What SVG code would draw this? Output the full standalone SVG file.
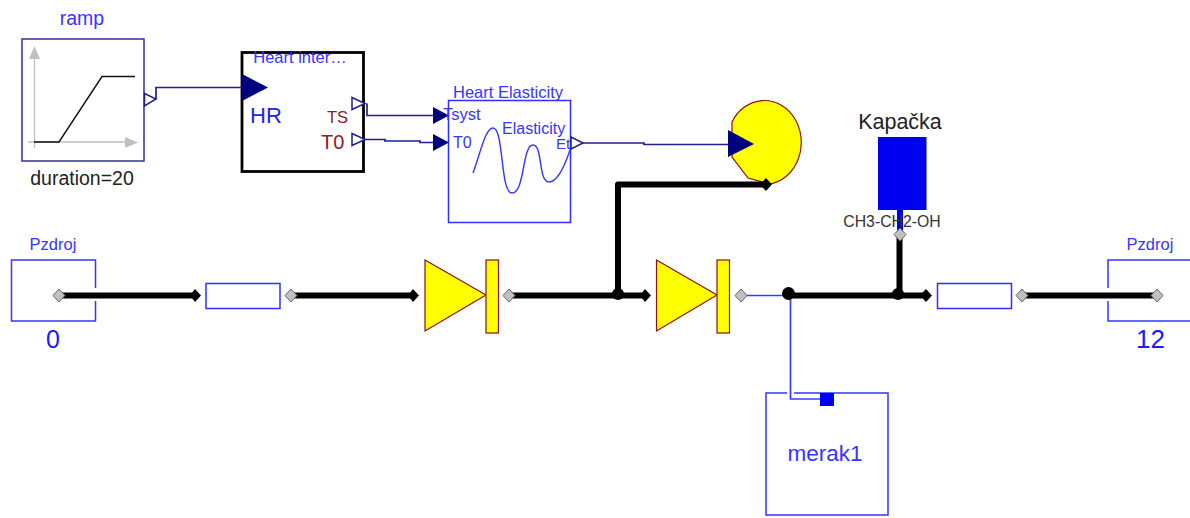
<svg xmlns="http://www.w3.org/2000/svg" width="1190" height="518" viewBox="0 0 1190 518">
<style>
text{font-family:"Liberation Sans",Arial,sans-serif}
.bl{fill:#3535ff}
.box{fill:#fff;stroke:#2f2fff;stroke-width:1.5}
.sig{fill:none;stroke:#1f1f8f;stroke-width:1.7}
.fl{fill:none;stroke:#000;stroke-width:6}
.thin{fill:none;stroke:#3a3aff;stroke-width:1.7}
.pin{fill:#c0c0c0;stroke:#666;stroke-width:1}
.pout{fill:#000}
.tri{fill:#00007f}
.otri{fill:#fff;stroke:#1f1f8f;stroke-width:1.5}
.y{fill:#ffff00;stroke:#8f1010;stroke-width:1.2}
.dk{fill:#8f2020}
</style>
<rect width="1190" height="518" fill="#fff"/>
<g id="ramp">
<text x="82" y="25" font-size="19.500" text-anchor="middle" class="bl">ramp</text>
<rect x="22" y="39" width="122" height="122" fill="#fff" stroke="#30309a" stroke-width="1.5"/>
<path d="M34.500 58V148M28 142H130" fill="none" stroke="#c0c0c0" stroke-width="1.3"/>
<path d="M34.500 46L29 59H40ZM138 142.500L125 137V148Z" fill="#c0c0c0"/>
<path d="M34 142H59L102 76.500H135" fill="none" stroke="#111" stroke-width="1.4"/>
<text x="82" y="185" font-size="19.500" text-anchor="middle" fill="#222">duration=20</text>
<path class="otri" d="M144.500 93.500L156 99L144.500 106Z"/>
</g>
<g id="heart-interval">
<rect x="242" y="52.500" width="121.500" height="119" fill="#fff" stroke="#000" stroke-width="2.800"/>
<text x="300" y="63" font-size="16.500" text-anchor="middle" class="bl">Heart inter…</text>
<path class="tri" d="M242 74L268 87.500L242 101Z"/>
<text x="250" y="122.500" font-size="22" fill="#2424e0">HR</text>
<text x="327" y="123" font-size="16.500" class="dk">TS</text>
<text x="321" y="149" font-size="20" class="dk">T0</text>
<path class="otri" d="M352 97.500L365 103.500L352 109.500ZM352 133.500L365 139.500L352 145.500Z"/>
</g>
<g id="heart-elasticity">
<rect x="448.500" y="100.500" width="122" height="122" class="box"/>
<path d="M473 173C480 155 485 128 493 128C504 128 500 193 512 193C525 193 522 145 533 145C543 145 538 182 549 182C558 182 565 165 570 150" fill="none" stroke="#3535ff" stroke-width="1.4"/>
<path class="tri" d="M433 107L449 115.500L433 124ZM433 134L449 142.500L433 151Z"/>
<text x="508" y="98" font-size="16.500" text-anchor="middle" class="bl">Heart Elasticity</text>
<text x="443" y="120" font-size="16.500" class="bl">Tsyst</text>
<text x="453" y="148" font-size="16" class="bl">T0</text>
<text x="502" y="134" font-size="16" class="bl">Elasticity</text>
<text x="556" y="149" font-size="15" class="bl">Et</text>
<path class="otri" d="M571 137L583 143L571 149Z"/>
</g>
<g id="chamber">
<path class="y" d="M732 122A37 42 0 1 1 770 184L748 178L732 157Z"/>
<path class="tri" d="M728 130L754 144L728 157Z"/>
</g>
<g id="kapacka">
<text x="900" y="129" font-size="21.500" text-anchor="middle" fill="#222">Kapačka</text>
<rect x="878" y="137" width="48.500" height="73" fill="#0000ee"/>
<rect x="897" y="210" width="6" height="22" fill="#0000ee"/>
<text x="892" y="227" font-size="15.800" text-anchor="middle" fill="#333">CH3-CH2-OH</text>
</g>
<g id="pzdroj-left">
<text x="53" y="250" font-size="16.500" text-anchor="middle" class="bl">Pzdroj</text>
<path d="M95.500 288V260H11.500V321H95.500V301" fill="none" stroke="#3535ff" stroke-width="1.500"/>
<text x="53" y="348" font-size="25" text-anchor="middle" fill="#1a1aff">0</text>
</g>
<g id="resistor-left"><rect x="206" y="283.500" width="74" height="25" class="box"/></g>
<g id="valve-1">
<path class="y" d="M425 260L486 295L425 331Z"/>
<rect x="486" y="260" width="12.500" height="73" class="y"/>
</g>
<g id="valve-2">
<path class="y" d="M656.500 260L717 295L656.500 331Z"/>
<rect x="717" y="260" width="12.500" height="73" class="y"/>
</g>
<g id="resistor-right"><rect x="937.500" y="283.500" width="74" height="25" class="box"/></g>
<g id="pzdroj-right">
<text x="1150" y="250" font-size="16.500" text-anchor="middle" class="bl">Pzdroj</text>
<path d="M1190 260H1108V288M1108 301V321H1190" fill="none" stroke="#3535ff" stroke-width="1.500"/>
<text x="1150.500" y="348" font-size="26" text-anchor="middle" fill="#1a1aff">12</text>
</g>
<g id="merak1">
<path d="M787 393H766V515H888V393H794" fill="#fff" stroke="#3535ff" stroke-width="1.500"/>
<rect x="820" y="393" width="14" height="13" fill="#0000f0"/>
<text x="825" y="461" font-size="22.500" text-anchor="middle" class="bl">merak1</text>
</g>
<g id="connectors">
<path class="sig" d="M156 99V87.500H242"/>
<path class="sig" d="M367 103.500V115.500H433M364 139.500H385V141H420V142.500H433"/>
<path class="sig" d="M583 143H644V144.500H728"/>
<path class="fl" d="M59 295.500H195M291 295.500H413M509 295.500H645"/>
<path class="fl" stroke-linejoin="round" d="M618 295V184.500H765"/>
<path class="fl" d="M789 295.500H926M1022 295.500H1157M899.500 234V295"/>
<path class="thin" d="M741 295.500H790.500V399H820"/>
<g class="pout">
<path d="M190 295.500L195 289L201 295.500L195 302ZM408 295.500L413 289L419 295.500L413 302ZM640 295.500L645 289L651 295.500L645 302ZM920 295.500L926 289L932 295.500L926 302ZM760 184.500L766 178L772 184.500L766 191Z"/>
<circle cx="618" cy="294" r="6"/><circle cx="788.500" cy="293.500" r="6.500"/><circle cx="898" cy="294" r="6"/>
</g>
<g class="pin">
<path d="M53 295.500L59 289L65 295.500L59 302ZM285 295.500L291 289L297 295.500L291 302ZM503 295.500L509 289L515 295.500L509 302ZM735 295.500L741 289L747 295.500L741 302ZM1016 295.500L1022 289L1028 295.500L1022 302ZM1151 295.500L1157 289L1163 295.500L1157 302ZM894 234.500L900 228L906 234.500L900 241Z"/>
</g>
</g>
</svg>
